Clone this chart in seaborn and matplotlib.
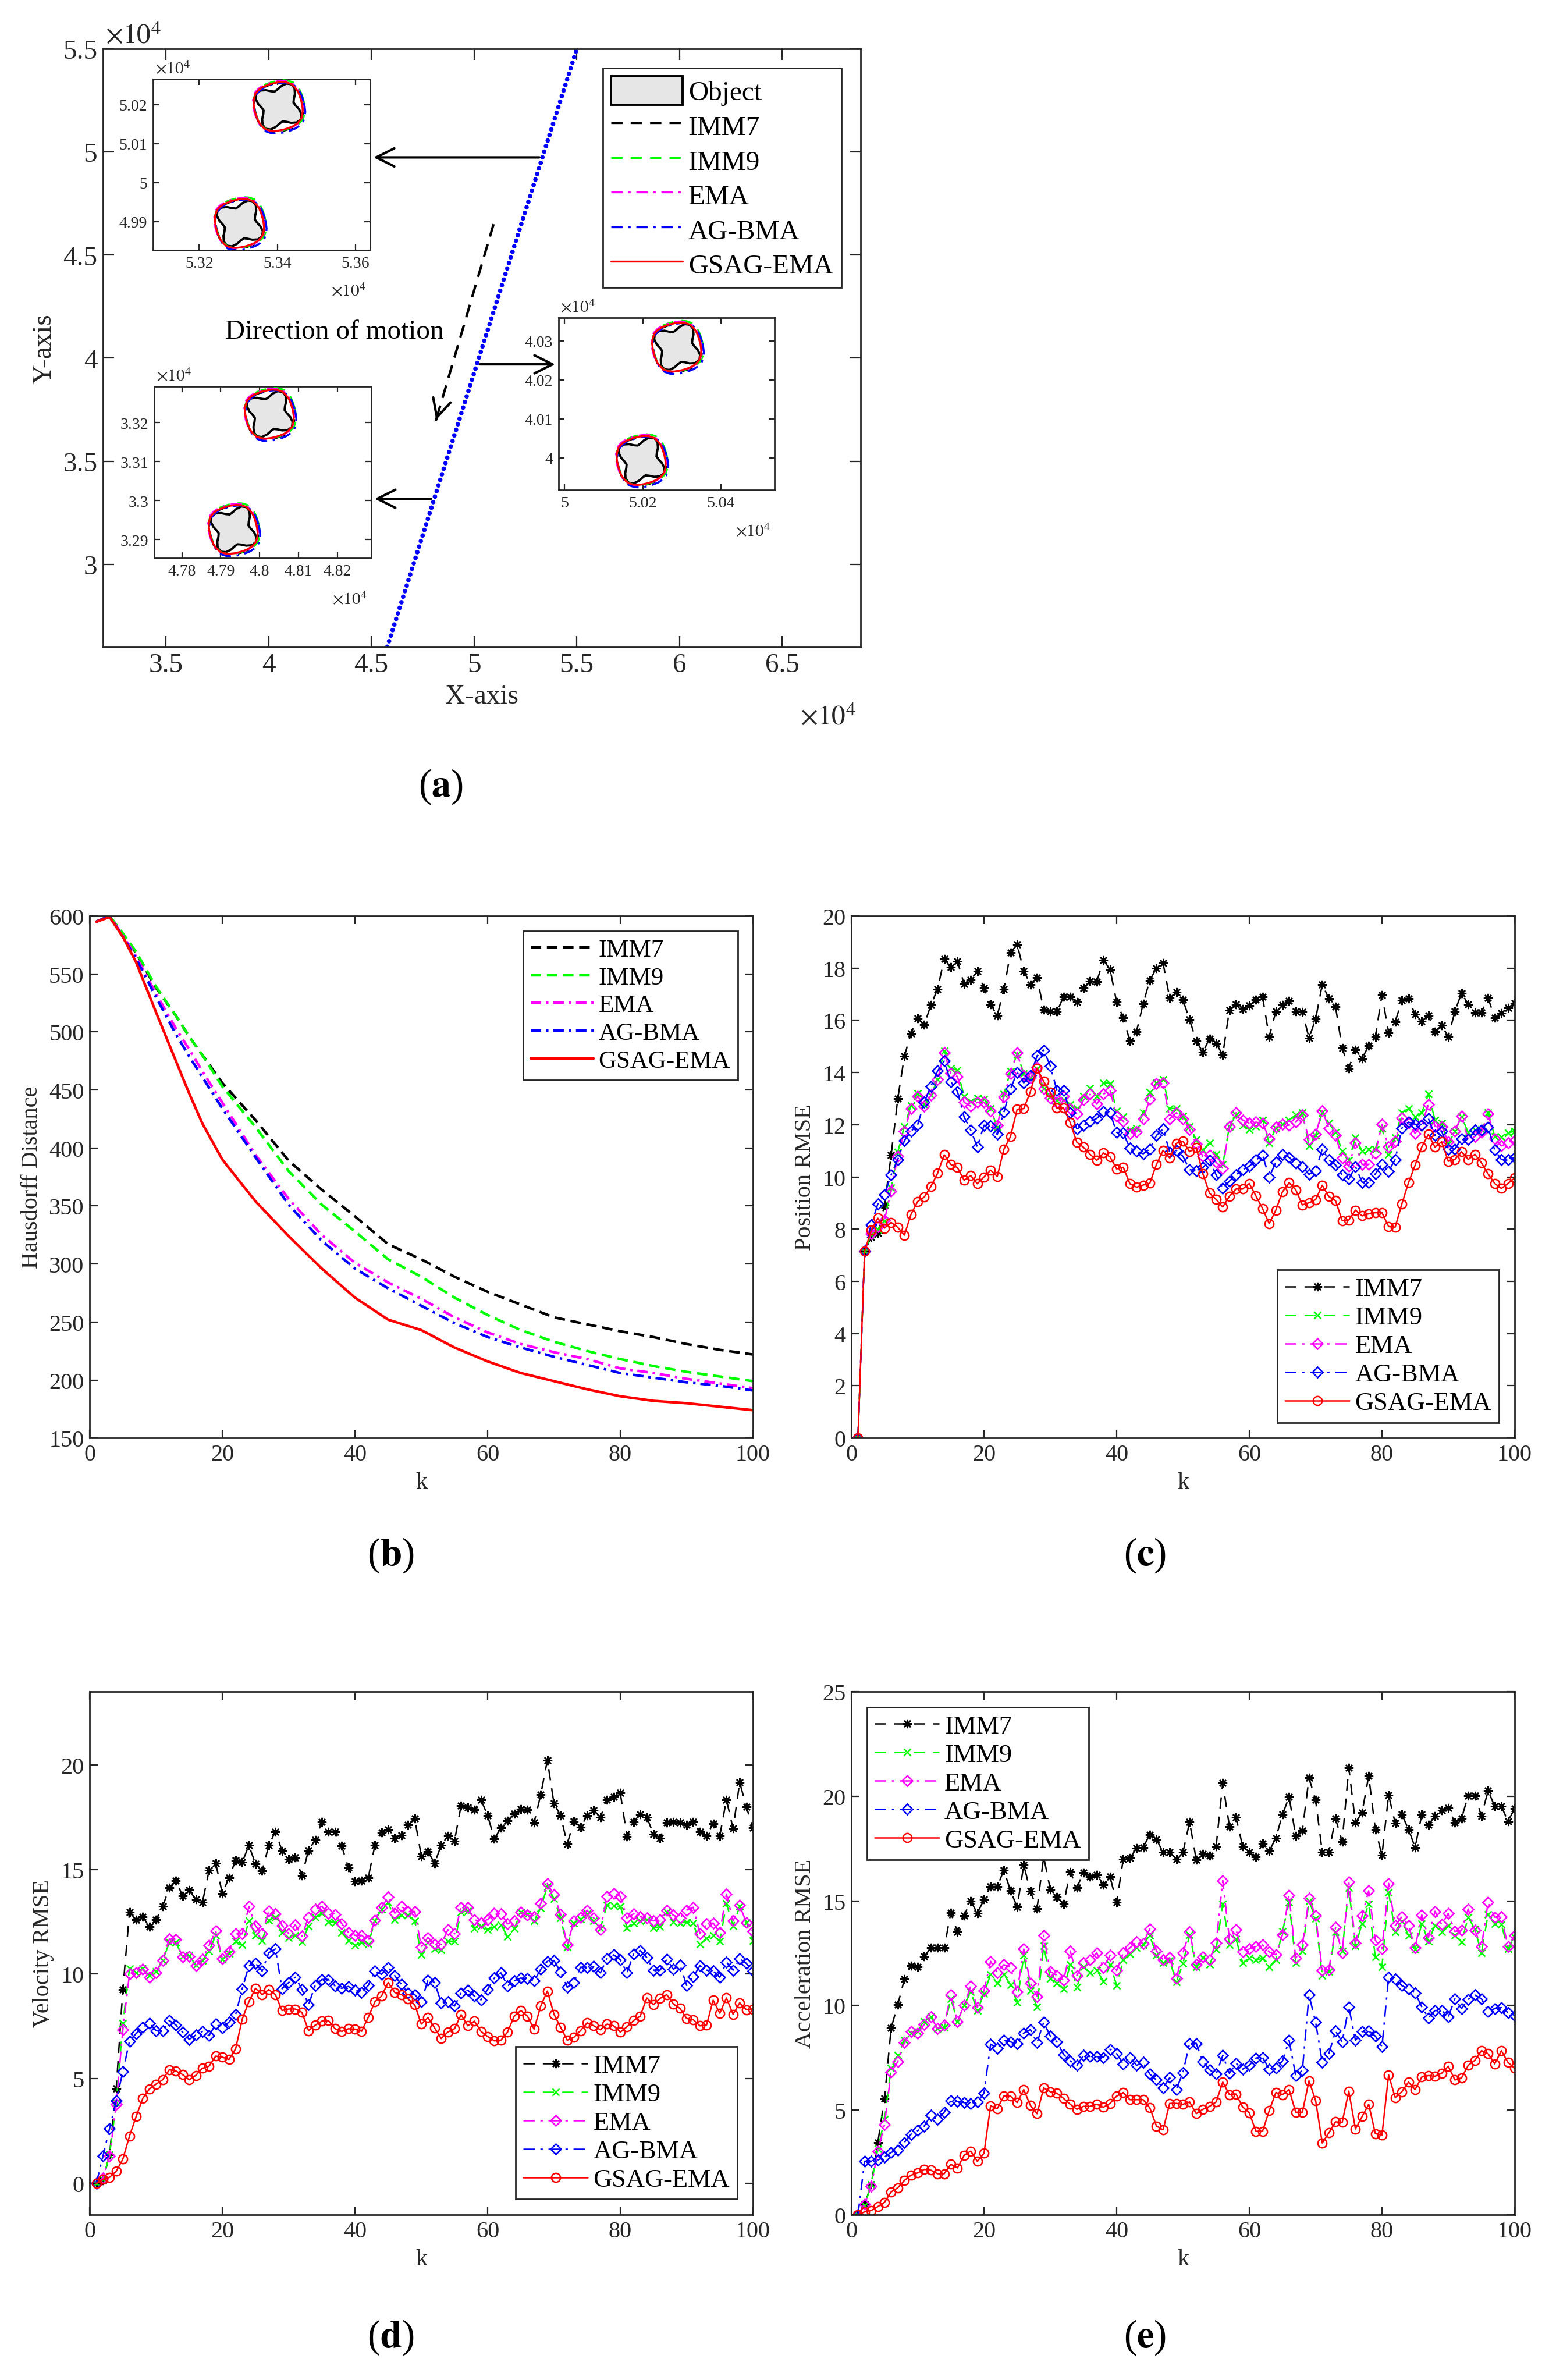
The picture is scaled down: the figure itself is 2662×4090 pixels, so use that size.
import numpy as np
import matplotlib
matplotlib.use("Agg")
import matplotlib.pyplot as plt
import seaborn as sns
from matplotlib.patches import Patch
from matplotlib.lines import Line2D
from matplotlib.ticker import FuncFormatter

# ---------------- data ----------------
methods = ["IMM7", "IMM9", "EMA", "AG-BMA", "GSAG-EMA"]
k = list(range(1, 101))

# (b) Hausdorff distance, read at a few k values
b_k = [1, 3, 5, 7, 10, 13, 15, 17, 20, 25, 30, 35, 40, 45, 50, 55, 60, 65, 70, 75, 80, 85, 90, 95, 100]
b_imm7 = [595, 600, 584, 568, 538, 514, 496, 480, 456, 424, 389, 364, 341, 317, 304, 289, 276, 265, 254, 248, 242, 237, 231, 226, 222]
b_imm9 = [595, 600, 585, 569, 539, 514, 496, 480, 453, 418, 380, 351, 328, 304, 289, 271, 256, 243, 233, 225, 218, 212, 207, 203, 199]
b_ema = [595, 600, 583, 565, 533, 503, 485, 466, 439, 394, 356, 325, 301, 284, 270, 254, 241, 231, 224, 218, 210, 206, 201, 197, 193]
b_agbma = [595, 600, 582, 563, 530, 498, 479, 461, 434, 392, 351, 320, 296, 279, 264, 249, 237, 228, 220, 213, 206, 202, 198, 195, 191]
b_gsag = [595, 599, 582, 560, 517, 475, 447, 421, 390, 354, 324, 296, 271, 252, 243, 228, 216, 206, 199, 192, 186, 182, 180, 177, 174]

# (c) position RMSE
c_imm7 = [0, 7.15, 7.7, 7.85, 8.93, 10.83, 13.0, 14.63, 15.5, 16.08,
          15.84, 16.59, 17.2, 18.35, 18.04, 18.26, 17.39, 17.55, 17.89, 17.24,
          16.61, 16.18, 17.19, 18.59, 18.91, 17.89, 17.38, 17.63, 16.42, 16.34,
          16.34, 16.9, 16.9, 16.7, 17.24, 17.5, 17.48, 18.3, 17.96, 16.7,
          16.1, 15.2, 15.57, 16.64, 17.53, 18.0, 18.19, 16.85, 17.07, 16.78,
          16.03, 15.21, 14.78, 15.3, 15.11, 14.68, 16.4, 16.61, 16.44, 16.57,
          16.78, 16.9, 15.36, 16.35, 16.59, 16.75, 16.35, 16.33, 15.32, 16.05,
          17.38, 16.83, 16.52, 14.94, 14.17, 14.88, 14.54, 15.03, 15.36, 16.98,
          15.53, 15.95, 16.76, 16.83, 16.23, 15.97, 16.19, 15.56, 15.81, 15.37,
          16.35, 17.04, 16.62, 16.31, 16.31, 16.85, 16.11, 16.27, 16.47, 16.65]
c_imm9 = [0, 7.15, 7.8, 7.98, 8.33, 9.6, 10.95, 11.94, 12.74, 13.21,
          12.78, 13.13, 13.73, 14.84, 14.17, 14.09, 13.1, 12.9, 13.03, 12.98,
          12.62, 11.9, 13.17, 14.05, 14.7, 13.97, 13.81, 14.14, 13.37, 13.1,
          12.94, 12.95, 12.78, 12.62, 13.1, 13.41, 13.1, 13.61, 13.59, 12.54,
          12.3, 11.79, 11.87, 12.46, 13.25, 13.61, 13.73, 12.62, 12.63, 12.34,
          11.94, 11.43, 11.03, 11.31, 10.87, 10.48, 11.94, 12.38, 11.98, 11.83,
          11.92, 12.18, 11.31, 11.87, 12.02, 12.18, 12.38, 12.46, 11.19, 11.59,
          12.46, 12.06, 11.71, 11.0, 10.63, 11.51, 11.0, 11.07, 11.07, 11.87,
          10.87, 11.51, 12.46, 12.62, 12.3, 12.46, 13.17, 12.18, 12.06, 11.27,
          11.75, 12.3, 11.71, 11.79, 11.81, 12.46, 11.55, 11.52, 11.68, 11.76]
c_ema = [0, 7.15, 7.84, 8.1, 8.35, 9.46, 10.79, 11.75, 12.63, 13.1,
         12.7, 13.13, 13.73, 14.76, 13.98, 13.85, 12.86, 12.71, 12.86, 12.86,
         12.54, 11.98, 13.06, 13.97, 14.76, 13.89, 13.81, 14.21, 13.37, 13.02,
         12.84, 13.1, 12.63, 12.42, 12.95, 13.17, 12.79, 13.17, 13.32, 12.34,
         12.14, 11.67, 11.73, 12.21, 12.98, 13.57, 13.61, 12.22, 12.46, 12.23,
         11.81, 11.27, 10.79, 10.83, 10.56, 10.33, 11.92, 12.46, 12.18, 12.06,
         12.1, 12.06, 11.47, 11.9, 12.02, 11.98, 12.1, 12.38, 11.43, 11.63,
         12.54, 11.87, 11.59, 10.73, 10.41, 11.31, 10.48, 10.48, 10.91, 12.02,
         11.15, 11.37, 12.26, 12.06, 11.67, 12.0, 12.78, 11.94, 11.92, 11.35,
         11.76, 12.34, 11.43, 11.55, 11.71, 12.42, 11.47, 11.19, 11.31, 11.39]
c_agbma = [0, 7.15, 8.17, 8.97, 9.33, 10.08, 10.67, 11.39, 11.75, 12.0,
           12.86, 13.48, 14.06, 14.44, 13.65, 13.27, 12.3, 11.79, 11.15, 11.98,
           11.96, 11.63, 12.48, 13.37, 14.01, 13.61, 13.89, 14.64, 14.86, 14.25,
           13.31, 13.31, 12.46, 11.84, 11.98, 12.13, 12.24, 12.5, 12.46, 11.71,
           11.68, 11.11, 10.99, 10.89, 11.07, 11.59, 11.84, 10.95, 11.02, 10.79,
           10.28, 10.24, 10.36, 10.63, 10.08, 9.56, 9.84, 10.08, 10.28, 10.41,
           10.65, 10.83, 10.0, 10.56, 10.87, 10.75, 10.52, 10.4, 10.1, 10.24,
           11.07, 10.65, 10.46, 10.08, 9.92, 10.4, 9.8, 9.78, 10.12, 10.49,
           10.22, 10.67, 11.87, 12.1, 12.02, 11.98, 12.24, 11.59, 11.76, 11.07,
           11.07, 11.47, 11.43, 11.79, 11.79, 11.9, 11.03, 10.67, 10.67, 10.75]
c_gsag = [0, 7.15, 7.96, 8.42, 8.04, 8.26, 8.07, 7.77, 8.57, 9.06,
          9.23, 9.64, 10.14, 10.85, 10.48, 10.36, 9.88, 10.05, 9.74, 10.0,
          10.26, 10.02, 11.06, 11.55, 12.59, 12.62, 13.27, 14.17, 13.66, 13.24,
          12.64, 12.64, 12.08, 11.33, 11.14, 10.87, 10.63, 10.92, 10.77, 10.31,
          10.37, 9.74, 9.61, 9.69, 9.76, 10.48, 11.02, 10.73, 11.29, 11.37,
          10.97, 11.13, 10.12, 9.38, 9.14, 8.85, 9.26, 9.54, 9.54, 9.75,
          9.27, 8.79, 8.21, 8.73, 9.43, 9.78, 9.51, 8.93, 9.01, 9.13,
          9.68, 9.25, 9.09, 8.33, 8.35, 8.73, 8.51, 8.59, 8.63, 8.63,
          8.1, 8.08, 8.97, 9.78, 10.45, 11.15, 11.63, 11.15, 11.35, 10.6,
          10.67, 10.97, 10.67, 10.87, 10.54, 10.12, 9.75, 9.56, 9.75, 9.96]

# (d) velocity RMSE
d_imm7 = [0, 0.15, 1.37, 4.54, 9.26, 12.95, 12.6, 12.74, 12.26, 12.6,
          13.23, 14.12, 14.47, 13.74, 14.01, 13.57, 13.43, 14.95, 15.3, 13.85,
          14.61, 15.43, 15.34, 16.15, 15.26, 14.92, 16.15, 16.81, 15.89, 15.5,
          15.57, 14.7, 15.92, 16.4, 17.27, 16.79, 16.79, 16.12, 15.09, 14.43,
          14.47, 14.61, 16.15, 16.77, 16.92, 16.5, 16.63, 17.13, 17.43, 15.64,
          15.85, 15.3, 16.15, 16.61, 16.36, 18.06, 17.96, 17.85, 18.33, 17.57,
          16.47, 16.98, 17.32, 17.67, 17.88, 17.85, 17.23, 18.57, 20.22, 18.15,
          17.57, 16.22, 17.3, 17.02, 17.57, 17.82, 17.5, 18.33, 18.47, 18.65,
          16.58, 17.27, 17.64, 17.5, 16.68, 16.5, 17.23, 17.26, 17.23, 17.13,
          17.27, 16.81, 16.61, 17.19, 16.61, 18.33, 16.95, 19.16, 17.99, 16.99]
d_imm9 = [0, 0.2, 1.37, 3.85, 7.64, 10.26, 10.06, 10.26, 9.92, 10.12,
          10.65, 11.5, 11.5, 10.84, 10.88, 10.43, 10.65, 11.09, 11.85, 10.7,
          10.98, 11.57, 11.39, 12.54, 11.85, 11.61, 12.58, 12.72, 11.99, 11.75,
          11.85, 11.53, 12.3, 12.72, 12.91, 12.5, 12.47, 11.99, 11.61, 11.37,
          11.5, 11.43, 12.54, 13.09, 13.43, 12.61, 12.81, 12.81, 12.54, 10.92,
          11.5, 11.2, 11.16, 11.57, 11.57, 12.95, 13.02, 12.19, 12.3, 12.12,
          12.26, 12.36, 11.78, 12.17, 12.95, 12.86, 12.54, 13.16, 14.19, 13.6,
          12.68, 11.3, 12.44, 12.63, 12.88, 12.54, 12.19, 13.3, 13.27, 13.23,
          12.22, 12.44, 12.54, 12.61, 12.22, 12.26, 12.95, 12.5, 12.44, 12.5,
          12.44, 11.43, 11.71, 11.85, 11.57, 13.37, 12.3, 13.23, 12.47, 11.61]
d_ema = [0, 0.26, 1.3, 3.78, 7.34, 10.01, 10.06, 10.23, 9.85, 10.06,
         10.65, 11.67, 11.64, 10.81, 10.84, 10.4, 10.7, 11.37, 12.06, 10.74,
         11.06, 11.94, 11.92, 13.23, 12.3, 11.94, 13.02, 12.88, 12.33, 11.94,
         12.36, 11.81, 12.72, 13.09, 13.23, 12.91, 12.86, 12.41, 11.99, 11.85,
         11.85, 11.61, 12.58, 13.19, 13.68, 12.91, 13.23, 12.99, 12.99, 11.3,
         11.75, 11.43, 11.43, 12.12, 11.92, 13.19, 13.19, 12.61, 12.47, 12.61,
         12.91, 12.88, 12.4, 12.54, 12.95, 12.81, 12.74, 13.37, 14.33, 13.78,
         12.86, 11.39, 12.54, 12.72, 13.05, 12.68, 12.12, 13.71, 13.85, 13.71,
         12.68, 12.88, 12.74, 12.68, 12.54, 12.61, 13.05, 12.81, 12.68, 13.05,
         13.19, 11.94, 12.4, 12.44, 11.99, 13.82, 12.54, 13.28, 12.47, 12.03]
d_agbma = [0, 1.3, 2.63, 3.94, 5.34, 6.79, 7.16, 7.46, 7.64, 7.3,
           7.3, 7.78, 7.57, 7.23, 6.88, 7.09, 7.26, 7.06, 7.61, 7.43,
           7.71, 8.06, 9.3, 10.4, 10.51, 10.15, 11.02, 11.2, 9.3, 9.6,
           9.85, 9.27, 8.54, 9.46, 9.74, 9.74, 9.43, 9.32, 9.41, 9.23,
           9.13, 9.46, 10.15, 9.99, 10.33, 9.92, 9.5, 9.09, 9.02, 8.68,
           9.71, 9.6, 8.63, 8.68, 8.47, 9.09, 9.23, 8.95, 8.77, 9.27,
           9.81, 10.06, 9.43, 9.68, 9.81, 9.78, 9.68, 10.23, 10.61, 10.65,
           10.1, 9.37, 9.6, 10.33, 10.33, 10.37, 10.06, 10.74, 10.92, 10.68,
           10.06, 10.95, 11.13, 10.79, 10.19, 10.19, 10.7, 10.23, 10.43, 9.46,
           9.88, 10.4, 10.19, 10.15, 9.85, 10.57, 10.19, 10.74, 10.51, 10.15]
d_gsag = [0, 0.19, 0.29, 0.58, 1.16, 2.26, 3.19, 4.06, 4.51, 4.74,
          4.95, 5.43, 5.37, 5.2, 4.95, 5.16, 5.5, 5.6, 6.08, 6.03,
          5.92, 6.43, 7.85, 8.68, 9.32, 9.02, 9.26, 9.02, 8.26, 8.33,
          8.33, 8.17, 7.3, 7.56, 7.75, 7.78, 7.39, 7.26, 7.39, 7.37,
          7.27, 7.94, 8.68, 8.95, 9.6, 9.12, 9.02, 8.81, 8.54, 7.61,
          7.92, 7.43, 6.92, 7.23, 7.39, 8.06, 7.53, 7.75, 7.26, 7.02,
          6.81, 6.84, 7.23, 7.99, 8.26, 7.99, 7.37, 8.47, 9.19, 8.08,
          7.46, 6.84, 6.98, 7.3, 7.67, 7.53, 7.34, 7.61, 7.53, 7.23,
          7.48, 7.78, 7.99, 8.86, 8.54, 8.84, 9.02, 8.57, 8.36, 7.88,
          7.82, 7.53, 7.57, 8.75, 8.13, 8.86, 8.08, 8.63, 8.3, 8.33]

# (e) acceleration RMSE
e_imm7 = [0, 0.49, 1.44, 3.46, 5.56, 8.92, 10.04, 11.25, 11.9, 11.86,
          12.35, 12.75, 12.75, 12.75, 14.43, 13.52, 14.29, 14.99, 14.4, 15.06,
          15.69, 15.69, 16.46, 15.48, 14.71, 16.71, 15.45, 14.64, 17.1, 15.55,
          15.17, 14.85, 16.39, 15.62, 16.36, 16.15, 16.25, 15.78, 16.15, 14.92,
          16.99, 17.04, 17.51, 17.55, 18.17, 17.93, 17.32, 17.32, 16.99, 17.31,
          18.77, 16.97, 17.25, 17.16, 17.6, 20.63, 18.56, 18.98, 17.6, 17.32,
          17.09, 17.75, 17.37, 18.0, 19.12, 19.96, 18.11, 18.35, 20.87, 19.82,
          17.32, 17.32, 18.94, 17.82, 21.36, 18.73, 19.22, 20.97, 18.42, 17.18,
          20.06, 18.7, 19.12, 18.42, 17.55, 19.12, 18.63, 19.05, 19.33, 19.43,
          18.73, 18.94, 20.03, 20.03, 19.05, 20.27, 19.51, 19.51, 18.81, 19.4]
e_imm9 = [0, 0.45, 1.44, 3.15, 4.55, 7.0, 7.63, 8.33, 8.68, 8.75,
          9.24, 9.45, 8.89, 8.96, 10.32, 9.24, 10.01, 10.64, 9.76, 10.57,
          11.48, 11.06, 11.48, 10.99, 10.15, 12.39, 10.71, 9.94, 12.84, 11.3,
          11.06, 10.78, 11.97, 10.88, 11.86, 11.58, 11.69, 11.16, 11.95, 10.97,
          12.18, 12.46, 12.75, 12.89, 13.35, 12.39, 12.04, 12.14, 11.13, 12.0,
          13.38, 11.86, 12.28, 11.95, 12.68, 14.85, 12.89, 13.17, 12.04, 12.25,
          12.18, 12.25, 11.86, 12.18, 13.54, 14.92, 12.04, 12.61, 14.99, 14.15,
          11.44, 11.62, 13.52, 12.61, 15.62, 12.84, 13.91, 14.85, 12.32, 11.86,
          15.41, 13.52, 14.01, 13.35, 12.68, 13.91, 13.07, 13.82, 13.52, 13.82,
          13.35, 13.03, 14.22, 13.66, 12.51, 14.36, 13.91, 13.87, 12.7, 13.26]
e_ema = [0, 0.49, 1.36, 3.04, 4.3, 6.82, 7.31, 8.22, 8.75, 8.68,
         9.1, 9.45, 8.89, 9.06, 10.5, 9.24, 10.01, 10.92, 9.9, 10.71,
         12.11, 11.58, 11.95, 11.83, 10.64, 12.7, 11.06, 10.43, 13.35, 11.62,
         11.44, 11.2, 12.61, 11.44, 12.04, 12.18, 12.51, 11.83, 12.39, 11.67,
         12.51, 12.75, 13.03, 12.96, 13.66, 12.61, 12.18, 12.28, 11.3, 12.51,
         13.52, 11.97, 12.32, 12.18, 12.98, 15.97, 13.17, 13.63, 12.56, 12.7,
         12.82, 12.89, 12.56, 12.42, 13.38, 15.27, 12.25, 12.89, 15.13, 14.29,
         11.67, 11.72, 13.73, 12.51, 15.9, 12.98, 14.29, 15.48, 13.12, 12.7,
         15.83, 13.82, 14.24, 13.82, 12.75, 14.33, 13.24, 14.5, 13.87, 14.4,
         13.54, 13.59, 14.61, 13.59, 12.82, 14.92, 14.22, 14.24, 12.82, 13.35]
e_agbma = [0, 2.56, 2.56, 2.62, 2.76, 2.98, 3.08, 3.46, 3.85, 4.02,
           4.24, 4.76, 4.55, 4.9, 5.46, 5.42, 5.36, 5.32, 5.39, 5.81,
           8.15, 7.96, 8.33, 8.26, 8.17, 8.68, 8.85, 8.22, 9.2, 8.54,
           8.26, 7.66, 7.35, 7.14, 7.61, 7.56, 7.56, 7.52, 7.91, 7.7,
           7.21, 7.52, 7.14, 7.28, 6.72, 6.44, 6.05, 6.55, 5.98, 6.8,
           8.19, 8.19, 7.32, 6.93, 6.72, 7.61, 6.76, 7.24, 6.96, 7.14,
           7.49, 7.52, 6.96, 7.0, 7.35, 8.33, 6.65, 6.89, 10.5, 9.2,
           7.28, 7.7, 8.78, 8.26, 9.94, 8.33, 8.75, 8.78, 8.54, 8.03,
           11.34, 11.27, 10.95, 10.78, 10.6, 9.94, 9.41, 9.76, 9.76, 9.45,
           10.32, 9.85, 10.29, 10.5, 10.32, 9.71, 9.85, 9.9, 9.66, 9.52]
e_gsag = [0, 0.14, 0.21, 0.39, 0.6, 1.09, 1.29, 1.64, 1.89, 2.0,
          2.17, 2.13, 1.96, 1.96, 2.41, 2.24, 2.84, 3.04, 2.55, 2.94,
          5.21, 5.07, 5.67, 5.67, 5.36, 5.98, 5.22, 4.83, 6.06, 5.88,
          5.81, 5.56, 5.28, 5.04, 5.18, 5.18, 5.28, 5.14, 5.32, 5.67,
          5.84, 5.5, 5.5, 5.5, 5.11, 4.24, 4.06, 5.32, 5.32, 5.28,
          5.39, 4.83, 5.04, 5.18, 5.39, 6.34, 5.74, 5.77, 5.15, 4.87,
          3.99, 3.99, 4.97, 5.84, 5.74, 5.98, 4.9, 4.9, 6.4, 5.46,
          3.43, 3.92, 4.44, 4.41, 5.91, 4.1, 4.69, 5.28, 3.88, 3.81,
          6.68, 5.6, 5.88, 6.34, 5.98, 6.58, 6.65, 6.62, 6.76, 7.1,
          6.44, 6.54, 7.14, 7.38, 7.84, 7.7, 7.21, 7.84, 7.28, 7.0]

# (a) trajectory end points and zoomed object positions
traj_x = [45780, 55000]
traj_y = [26000, 55000]
inset_xlim = [(53082, 53637), (47729, 48287), (49984, 50538)]
inset_ylim = [(49826, 50265), (32852, 33293), (39917, 40359)]
inset_xticks = [[53200, 53400, 53600], [47800, 47900, 48000, 48100, 48200], [50000, 50200, 50400]]
inset_yticks = [[49900, 50000, 50100, 50200], [32900, 33000, 33100, 33200], [40000, 40100, 40200, 40300]]
blob_centers = [[(53403, 50195), (53304, 49895)],
                [(48026, 33222), (47933, 32926)],
                [(50288, 40284), (50197, 39993)]]
# outline radii of the object (32 directions) and of the estimated contours
obj_r = [0.60, 0.66, 0.80, 0.94, 1.00, 0.94, 0.80, 0.66,
         0.60, 0.66, 0.80, 0.94, 1.00, 0.94, 0.80, 0.66,
         0.60, 0.66, 0.80, 0.94, 1.00, 0.94, 0.80, 0.66,
         0.60, 0.66, 0.80, 0.94, 1.00, 0.94, 0.80, 0.66]
est_r = [0.93, 0.94, 0.97, 1.00, 1.02, 1.00, 0.97, 0.94,
         0.93, 0.94, 0.97, 1.00, 1.02, 1.00, 0.97, 0.94,
         0.93, 0.94, 0.97, 1.00, 1.02, 1.00, 0.97, 0.94,
         0.93, 0.94, 0.97, 1.00, 1.02, 1.00, 0.97, 0.94]
est_scale = [1.00, 1.03, 1.02, 1.03, 0.99]
est_dx = [0, 2, -1, 3, -1]
est_dy = [-2, 2, 1, -4, 0]

# ---------------- style ----------------
sns.set_theme(style="ticks")
plt.rcParams["font.family"] = ["Liberation Serif", "DejaVu Serif"]
plt.rcParams["mathtext.fontset"] = "stix"
plt.rcParams["lines.scale_dashes"] = False
plt.rcParams["xtick.direction"] = "in"
plt.rcParams["ytick.direction"] = "in"
plt.rcParams["xtick.top"] = True
plt.rcParams["ytick.right"] = True
plt.rcParams["xtick.major.size"] = 5
plt.rcParams["ytick.major.size"] = 5
plt.rcParams["xtick.major.width"] = 0.8
plt.rcParams["ytick.major.width"] = 0.8
plt.rcParams["axes.edgecolor"] = "#262626"
plt.rcParams["axes.linewidth"] = 1.0
plt.rcParams["text.color"] = "#262626"
plt.rcParams["axes.labelcolor"] = "#262626"
plt.rcParams["xtick.color"] = "#262626"
plt.rcParams["ytick.color"] = "#262626"

colors = {"IMM7": "#000000", "IMM9": "#00FF00", "EMA": "#FF00FF", "AG-BMA": "#0000FF", "GSAG-EMA": "#FF0000"}
markers = {"IMM7": (8, 2, 0), "IMM9": "x", "EMA": "D", "AG-BMA": "D", "GSAG-EMA": "o"}
dash_thin = {"IMM7": (0, (7, 5)), "IMM9": (0, (7, 5)), "EMA": (0, (7, 3.5, 1.5, 3.5)),
             "AG-BMA": (0, (7, 3.5, 1.5, 3.5)), "GSAG-EMA": "-"}
dash_thick = {"IMM7": (0, (6.5, 3.5)), "IMM9": (0, (6.5, 3.5)), "EMA": (0, (6.5, 3, 1.5, 3)),
              "AG-BMA": (0, (6.5, 3, 1.5, 3)), "GSAG-EMA": "-"}

fig = plt.figure(figsize=(13.31, 20.455), dpi=200)
tick_fs = 14.5


def legend_box(ax, loc, fs):
    leg = ax.legend(loc=loc, fontsize=fs, frameon=True, fancybox=False, framealpha=1,
                    edgecolor="#262626", handlelength=2.5, handletextpad=0.2,
                    labelspacing=0.2, borderpad=0.3, borderaxespad=0.6)
    leg.get_frame().set_linewidth(1.0)
    for t in leg.get_texts():
        t.set_color("black")
    return leg


def rmse_panel(rect, series, ylabel, ylim, yticks, loc):
    ax = fig.add_axes(rect)
    for name, vals in zip(methods, series):
        ms = 5.5 if name in ("IMM7", "GSAG-EMA") else 4.6
        sns.lineplot(x=k, y=vals, ax=ax, color=colors[name], linestyle=dash_thin[name],
                     linewidth=0.9, marker=markers[name], markersize=ms,
                     markerfacecolor="none", markeredgecolor=colors[name],
                     markeredgewidth=0.9, label=name, sort=False, estimator=None)
    ax.set_xlim(0, 100)
    ax.set_ylim(*ylim)
    ax.set_xticks([0, 20, 40, 60, 80, 100])
    ax.set_yticks(yticks)
    ax.tick_params(labelsize=tick_fs)
    ax.set_xlabel("k", fontsize=tick_fs)
    ax.set_ylabel(ylabel, fontsize=tick_fs)
    legend_box(ax, loc, 16)
    return ax


# ---------------- (a) ----------------
ax_a = fig.add_axes([0.0665, 0.7279, 0.4891, 0.2513])
sns.lineplot(x=traj_x, y=traj_y, ax=ax_a, color="#0000FF", linewidth=2.8,
             linestyle=(0, (0.01, 3.6)), dash_capstyle="round", sort=False, estimator=None)
ax_a.set_xlim(31943, 68814)
ax_a.set_ylim(25980, 55000)
ax_a.set_xticks([35000, 40000, 45000, 50000, 55000, 60000, 65000])
ax_a.set_yticks([30000, 35000, 40000, 45000, 50000, 55000])
fmt = FuncFormatter(lambda v, p: f"{v / 1e4:g}")
ax_a.xaxis.set_major_formatter(fmt)
ax_a.yaxis.set_major_formatter(fmt)
ax_a.tick_params(labelsize=17, length=7)
ax_a.set_xlabel("X-axis", fontsize=17)
ax_a.set_ylabel("Y-axis", fontsize=17)
ax_a.text(0.957, -0.117, r"$\times10^{4}$", transform=ax_a.transAxes, fontsize=17, ha="center", va="center")
ax_a.text(0.04, 1.022, r"$\times10^{4}$", transform=ax_a.transAxes, fontsize=17, ha="center", va="center")

# arrows from the trajectory to the zoomed views
arrow_kw = dict(arrowstyle="->", color="black", lw=1.5, mutation_scale=28)
ax_a.annotate("", xy=(44950, 49740), xytext=(53330, 49740), arrowprops=arrow_kw)
ax_a.annotate("", xy=(45000, 33180), xytext=(48060, 33180), arrowprops=arrow_kw)
ax_a.annotate("", xy=(54110, 39700), xytext=(50140, 39700), arrowprops=arrow_kw)
ax_a.plot([50950, 48180], [46500, 37100], color="black", lw=1.5, linestyle=(0, (8, 5)))
ax_a.annotate("", xy=(48110, 36850), xytext=(48200, 37160), arrowprops=arrow_kw)
ax_a.text(43214, 41280, "Direction of motion", fontsize=17, ha="center", va="center", color="black")

inset_rects = [[0.066, 0.6634, 0.2865, 0.286], [0.0676, 0.1488, 0.2865, 0.287], [0.601, 0.2626, 0.2857, 0.288]]
for i, rect in enumerate(inset_rects):
    ins = ax_a.inset_axes(rect)
    ins.set_facecolor("white")
    for (cx, cy) in blob_centers[i]:
        ang = np.deg2rad(np.arange(33) * 360 / 32 + 15)
        ro = np.array(obj_r + obj_r[:1]) * 66
        ins.fill(cx + ro * np.cos(ang), cy + ro * np.sin(ang), facecolor="#e6e6e6",
                 edgecolor="black", lw=1.4, zorder=2)
        for j, name in enumerate(methods):
            re = np.array(est_r + est_r[:1]) * 66 * est_scale[j]
            ins.plot(cx + est_dx[j] + re * np.cos(ang), cy + est_dy[j] + re * np.sin(ang),
                     color=colors[name], lw=1.2, linestyle=dash_thin[name], zorder=3)
    ins.set_xlim(*inset_xlim[i])
    ins.set_ylim(*inset_ylim[i])
    ins.set_xticks(inset_xticks[i])
    ins.set_yticks(inset_yticks[i])
    ins.xaxis.set_major_formatter(fmt)
    ins.yaxis.set_major_formatter(fmt)
    ins.tick_params(labelsize=10, length=3.5)
    ins.text(0.09, 1.06, r"$\times10^{4}$", transform=ins.transAxes, fontsize=10.5, ha="center", va="center")
    ins.text(0.9, -0.24, r"$\times10^{4}$", transform=ins.transAxes, fontsize=10.5, ha="center", va="center")

handles = [Patch(facecolor="#e6e6e6", edgecolor="black", linewidth=1.4, label="Object")]
for name in methods:
    handles.append(Line2D([], [], color=colors[name], lw=1.2, linestyle=dash_thin[name], label=name))
leg = ax_a.legend(handles=handles, loc="upper right", fontsize=17, frameon=True, fancybox=False,
                  framealpha=1, edgecolor="#262626", handlelength=2.6, handleheight=1.2,
                  handletextpad=0.2, labelspacing=0.2, borderpad=0.3, borderaxespad=0.7)
leg.get_frame().set_linewidth(1.0)
for t in leg.get_texts():
    t.set_color("black")

# ---------------- (b) ----------------
ax_b = fig.add_axes([0.0579, 0.3957, 0.4282, 0.2193])
for name, vals in zip(methods, [b_imm7, b_imm9, b_ema, b_agbma, b_gsag]):
    sns.lineplot(x=b_k, y=vals, ax=ax_b, color=colors[name], linestyle=dash_thick[name],
                 linewidth=1.6, label=name, sort=False, estimator=None)
ax_b.set_xlim(0, 100)
ax_b.set_ylim(150, 600)
ax_b.set_xticks([0, 20, 40, 60, 80, 100])
ax_b.set_yticks(list(range(150, 601, 50)))
ax_b.tick_params(labelsize=tick_fs)
ax_b.set_xlabel("k", fontsize=tick_fs)
ax_b.set_ylabel("Hausdorff Distance", fontsize=tick_fs)
legend_box(ax_b, "upper right", 15.5)

# ---------------- (c) (d) (e) ----------------
rmse_panel([0.5496, 0.3957, 0.4282, 0.2193], [c_imm7, c_imm9, c_ema, c_agbma, c_gsag],
           "Position RMSE", (0, 20), list(range(0, 21, 2)), "lower right")
rmse_panel([0.0579, 0.0694, 0.4282, 0.2198], [d_imm7, d_imm9, d_ema, d_agbma, d_gsag],
           "Velocity RMSE", (-1.5, 23.5), [0, 5, 10, 15, 20], "lower right")
rmse_panel([0.5496, 0.0694, 0.4282, 0.2198], [e_imm7, e_imm9, e_ema, e_agbma, e_gsag],
           "Acceleration RMSE", (0, 25), [0, 5, 10, 15, 20, 25], "upper left")

# panel labels
for (x, y, s) in [(0.2844, 0.6695, "a"), (0.252, 0.3466, "b"), (0.739, 0.3466, "c"),
                  (0.252, 0.018, "d"), (0.739, 0.018, "e")]:
    fig.text(x, y, r"($\mathbf{" + s + r"}$)", fontsize=24, ha="center", va="center", color="black")

fig.savefig("out.png", dpi=200, facecolor="white")
